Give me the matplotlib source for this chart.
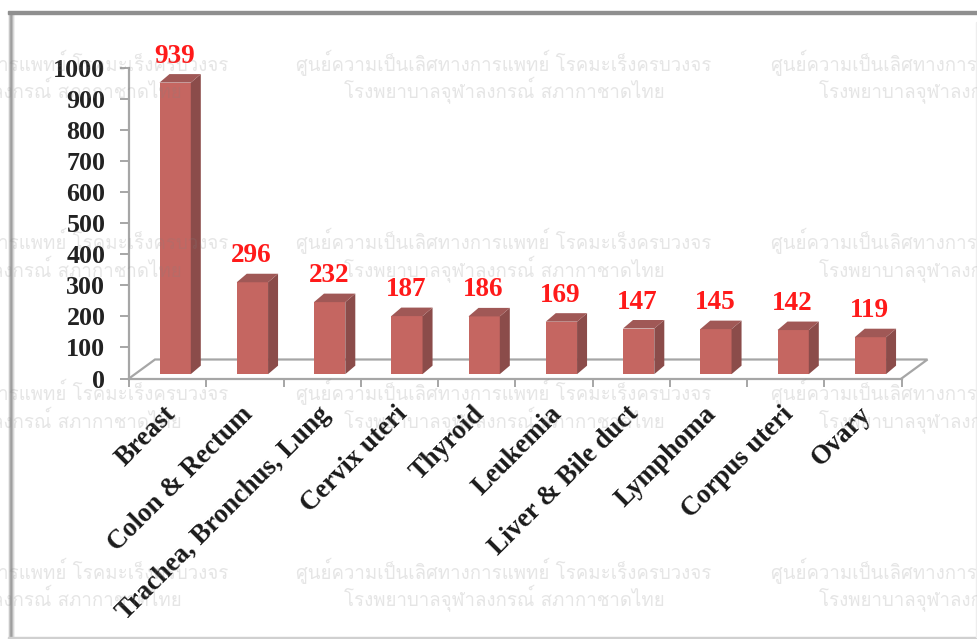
import matplotlib
matplotlib.use('Agg')
import matplotlib.pyplot as plt
import numpy as np
from matplotlib.patches import Polygon

cancer_sites = ['Breast', 'Colon & Rectum', 'Trachea, Bronchus, Lung', 'Cervix uteri', 'Thyroid',
                'Leukemia', 'Liver & Bile duct', 'Lymphoma', 'Corpus uteri', 'Ovary']
case_counts = [939, 296, 232, 187, 186, 169, 147, 145, 142, 119]
y_ticks = [0, 100, 200, 300, 400, 500, 600, 700, 800, 900, 1000]
watermark_lines = ['ศูนย์ความเป็นเลิศทางการแพทย์ โรคมะเร็งครบวงจร',
                   'โรงพยาบาลจุฬาลงกรณ์ สภากาชาดไทย']

W, H = 977, 639
SERIF = 'Liberation Serif'
GRID = '#a6a6a6'

fig = plt.figure(figsize=(W / 100, H / 100), dpi=100, facecolor='white')
# axes box in pixels: x 129..901.5, y 68..378.5 from the top
ax = fig.add_axes([129 / W, 1 - 378.5 / H, 772.5 / W, 310.5 / H])
ax.set_xlim(0, 10)
ax.set_ylim(0, 1000)
ax.patch.set_visible(False)

px_x = 10 / 772.5    # data units per pixel
px_y = 1000 / 310.5

# floor of the fake 3D chart
floor_dx, floor_dy = 26 * px_x, 19 * px_y
ax.plot([0, floor_dx, 10 + floor_dx, 10], [0, floor_dy, floor_dy, 0], color=GRID, lw=1.6,
        clip_on=False, zorder=1, solid_joinstyle='miter')

# bars: front face from the library, side and top faces offset from it
bar_w = 31.3 * px_x
base = 14
depth_x, depth_y = 10 * px_x, 8.5 * px_y
lefts = np.arange(len(case_counts)) + 30.5 * px_x
ax.bar(lefts, case_counts, width=bar_w, bottom=base, align='edge', color='#c56661',
       edgecolor='none', zorder=3)
for left, val in zip(lefts, case_counts):
    right = left + bar_w
    top = val + base
    ax.add_patch(Polygon([(right, base), (right + depth_x, base + depth_y),
                          (right + depth_x, top + depth_y), (right, top)],
                         facecolor='#8b4c4a', edgecolor='none', zorder=3))
    ax.add_patch(Polygon([(left, top), (left + depth_x, top + depth_y),
                          (right + depth_x, top + depth_y), (right, top)],
                         facecolor='#a05856', edgecolor='none', zorder=3))
    ax.annotate(str(val), (left + bar_w / 2, top + depth_y), xytext=(-1, 18),
                textcoords='offset pixels', ha='center', va='center', color='#ff1a1a',
                family=SERIF, fontweight='bold', fontsize=19.5, zorder=6)

# axes
for side in ['top', 'right']:
    ax.spines[side].set_visible(False)
for side in ['left', 'bottom']:
    ax.spines[side].set_color(GRID)
    ax.spines[side].set_linewidth(1.6)
ax.set_yticks(y_ticks)
ax.set_yticklabels([str(t) for t in y_ticks], family=SERIF, fontweight='bold',
                   fontsize=18.7, color='#222222')
ax.tick_params(axis='y', length=6.5, width=1.4, color=GRID, pad=10.5)
ax.set_xticks(range(11))
ax.set_xticklabels([])
ax.tick_params(axis='x', length=6, width=1.4, color=GRID)

for i, name in enumerate(cancer_sites):
    ax.annotate(name, (i + 0.5, 0), xytext=(4, -32), textcoords='offset pixels',
                rotation=45, rotation_mode='anchor', ha='right', va='center', color='#1a1a1a',
                family=SERIF, fontweight='bold', fontsize=19.3, annotation_clip=False, zorder=6)

# repeated pale watermark, it lies over the bars
for cx in [21, 504, 979]:
    for y1, y2 in [(63, 91), (241, 269), (392, 420), (571, 599)]:
        for line, yy in zip(watermark_lines, [y1, y2]):
            fig.text(cx / W, 1 - yy / H, line, family='Loma', fontsize=13.45, ha='center', va='center',
                     color='#808080', alpha=0.2, zorder=5)

# picture frame: shaded left edge, dark top, pale bottom and right
edge = fig.add_axes([8 / W, 1 - 637 / H, 8 / W, 625 / H])
edge.imshow([[0.93, 0.78, 0.66, 0.62, 0.72, 0.85, 0.94, 1.0]], cmap='gray', vmin=0, vmax=1,
            aspect='auto')
edge.axis('off')
fig.add_artist(plt.Rectangle((8 / W, 1 - 13.5 / H), 969 / W, 2.5 / H, color='#8f8f8f',
                             transform=fig.transFigure))
fig.add_artist(plt.Rectangle((8 / W, 0), 969 / W, 2.5 / H, color='#d0d0d0',
                             transform=fig.transFigure))
fig.add_artist(plt.Rectangle((975.5 / W, 2.5 / H), 1.5 / W, 1 - 24 / H, color='#eeeeee',
                             transform=fig.transFigure))

fig.savefig('out.png', dpi=100)
plt.close(fig)
